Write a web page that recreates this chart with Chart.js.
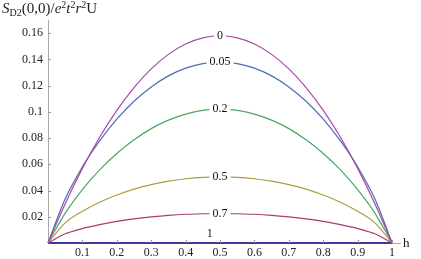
<!DOCTYPE html>
<html>
<head>
<meta charset="utf-8">
<script src="https://cdn.jsdelivr.net/npm/chart.js@4.4.1/dist/chart.umd.min.js"></script>
<style>
  html, body { margin: 0; padding: 0; background: #fff; }
  #wrap { position: relative; width: 421px; height: 259px; }
  #ytitle {
    position: absolute; left: 2px; top: 0px;
    font-family: "Liberation Serif", "DejaVu Serif", serif;
    font-size: 15px; color: #222; white-space: nowrap; line-height: 17px;
  }
  #ytitle .sb { font-size: 10px; position: relative; top: 3px; }
  #ytitle .sp { font-size: 10px; position: relative; top: -5px; }
</style>
</head>
<body>
<div id="wrap">
  <canvas id="chart" width="421" height="259"></canvas>
  <div id="ytitle"><i>S</i><span class="sb">D2</span>(0,0)/<i>e</i><span class="sp">2</span><i>t</i><span class="sp">2</span><i>r</i><span class="sp">2</span>U</div>
</div>
<script>
// h values along the x axis
var hValues = [0, 0.05, 0.1, 0.15, 0.2, 0.25, 0.3, 0.35, 0.4, 0.45, 0.5,
               0.55, 0.6, 0.65, 0.7, 0.75, 0.8, 0.85, 0.9, 0.95, 1];

var curveNames = ['0', '0.05', '0.2', '0.5', '0.7', '1'];

var s0   = [0, 0.0300, 0.0569, 0.0806, 0.1011, 0.1185, 0.1327, 0.1438, 0.1517, 0.1564, 0.158,
            0.1564, 0.1517, 0.1438, 0.1327, 0.1185, 0.1011, 0.0806, 0.0569, 0.0300, 0];
var s005 = [0, 0.0337, 0.0580, 0.0778, 0.0944, 0.1081, 0.1190, 0.1274, 0.1333, 0.1368, 0.138,
            0.1368, 0.1333, 0.1274, 0.1190, 0.1081, 0.0944, 0.0778, 0.0580, 0.0337, 0];
var s02  = [0, 0.0228, 0.0407, 0.0557, 0.0682, 0.0787, 0.0872, 0.0937, 0.0983, 0.1011, 0.102,
            0.1011, 0.0983, 0.0937, 0.0872, 0.0787, 0.0682, 0.0557, 0.0407, 0.0228, 0];
var s05  = [0, 0.0153, 0.0242, 0.0311, 0.0366, 0.0411, 0.0445, 0.0472, 0.0490, 0.0501, 0.0505,
            0.0501, 0.0490, 0.0472, 0.0445, 0.0411, 0.0366, 0.0311, 0.0242, 0.0153, 0];
var s07  = [0, 0.0070, 0.0110, 0.0140, 0.0165, 0.0184, 0.0199, 0.0211, 0.0219, 0.0223, 0.0225,
            0.0223, 0.0219, 0.0211, 0.0199, 0.0184, 0.0165, 0.0140, 0.0110, 0.0070, 0];
var s1   = [0, 0, 0, 0, 0, 0, 0, 0, 0, 0, 0, 0, 0, 0, 0, 0, 0, 0, 0, 0, 0];

var xTicks = [0.1, 0.2, 0.3, 0.4, 0.5, 0.6, 0.7, 0.8, 0.9, 1];
var yTicks = [0.02, 0.04, 0.06, 0.08, 0.1, 0.12, 0.14, 0.16];

// where each curve label sits (h position)
var labelH = [0.5, 0.5, 0.5, 0.5, 0.5, 0.47];

var allSeries = [s0, s005, s02, s05, s07, s1];
var colors = ['#a84aa8', '#4a6db3', '#4aa862', '#ad9c3e', '#a83c78', '#3c3c9c'];
var serif = "'Liberation Serif', 'Times New Roman', serif";

function toPoints(vals) {
    var pts = [];
    for (let i = 0; i < hValues.length; i++) {
        pts.push({ x: hValues[i], y: vals[i] });
    }
    return pts;
}

var datasets = [];
for (let i = 0; i < allSeries.length; i++) {
    datasets.push({
        label: curveNames[i],
        data: toPoints(allSeries[i]),
        borderColor: colors[i],
        borderWidth: i == 5 ? 2 : 1.2,
        pointRadius: 0,
        fill: false,
        cubicInterpolationMode: 'monotone',
        clip: false
    });
}

function fmt(v) {
    return String(+v.toFixed(2));
}

var extras = {
    id: 'extras',
    afterDraw: function(chart) {
        var ctx = chart.ctx;
        var xs = chart.scales.x, ys = chart.scales.y;
        var x0 = xs.left, y0 = ys.bottom;
        ctx.save();
        // inward tick marks
        ctx.strokeStyle = '#999';
        ctx.lineWidth = 1;
        ctx.beginPath();
        xTicks.forEach(function(t) {
            var px = Math.round(xs.getPixelForValue(t)) + 0.5;
            ctx.moveTo(px, y0);
            ctx.lineTo(px, y0 - 3);
        });
        yTicks.forEach(function(t) {
            var py = Math.round(ys.getPixelForValue(t)) + 0.5;
            ctx.moveTo(x0, py);
            ctx.lineTo(x0 + 3, py);
        });
        ctx.stroke();

        // curve labels
        ctx.font = '12px ' + serif;
        ctx.textAlign = 'center';
        ctx.textBaseline = 'middle';
        for (let i = 0; i < curveNames.length; i++) {
            var idx = hValues.indexOf(0.5);
            var px = xs.getPixelForValue(labelH[i]);
            var py = ys.getPixelForValue(allSeries[i][idx]);
            if (i == 5) {
                py = py - 9;
            } else {
                var w = ctx.measureText(curveNames[i]).width + 6;
                ctx.fillStyle = '#fff';
                ctx.fillRect(px - w / 2, py - 4, w, 8);
            }
            ctx.fillStyle = '#111';
            ctx.fillText(curveNames[i], px, py);
        }

        // x axis name
        ctx.textAlign = 'left';
        ctx.font = '13px ' + serif;
        ctx.fillText('h', xs.right + 3, y0 + 1);
        ctx.restore();
    }
};

new Chart(document.getElementById('chart').getContext('2d'), {
    type: 'line',
    data: { datasets: datasets },
    options: {
        responsive: false,
        animation: false,
        layout: { padding: { top: 20, right: 21, left: 0, bottom: 0 } },
        plugins: { legend: { display: false }, tooltip: { enabled: false } },
        scales: {
            x: {
                type: 'linear',
                min: 0,
                max: 1.023,
                afterBuildTicks: function(scale) {
                    scale.ticks = xTicks.map(function(v) { return { value: v }; });
                },
                afterFit: function(scale) { scale.height = 16; },
                grid: { display: false, drawTicks: false },
                border: { color: '#aaa', width: 1 },
                ticks: {
                    padding: 3,
                    maxRotation: 0,
                    autoSkip: false,
                    color: '#222',
                    font: { family: serif, size: 12 },
                    callback: function(v) { return fmt(v); }
                }
            },
            y: {
                min: 0,
                max: 0.17,
                afterBuildTicks: function(scale) {
                    scale.ticks = yTicks.map(function(v) { return { value: v }; });
                },
                afterFit: function(scale) { scale.width = 48; },
                grid: { display: false, drawTicks: false },
                border: { color: '#aaa', width: 1 },
                ticks: {
                    padding: 5,
                    autoSkip: false,
                    color: '#222',
                    font: { family: serif, size: 12 },
                    callback: function(v) { return fmt(v); }
                }
            }
        }
    },
    plugins: [extras]
});
</script>
</body>
</html>
